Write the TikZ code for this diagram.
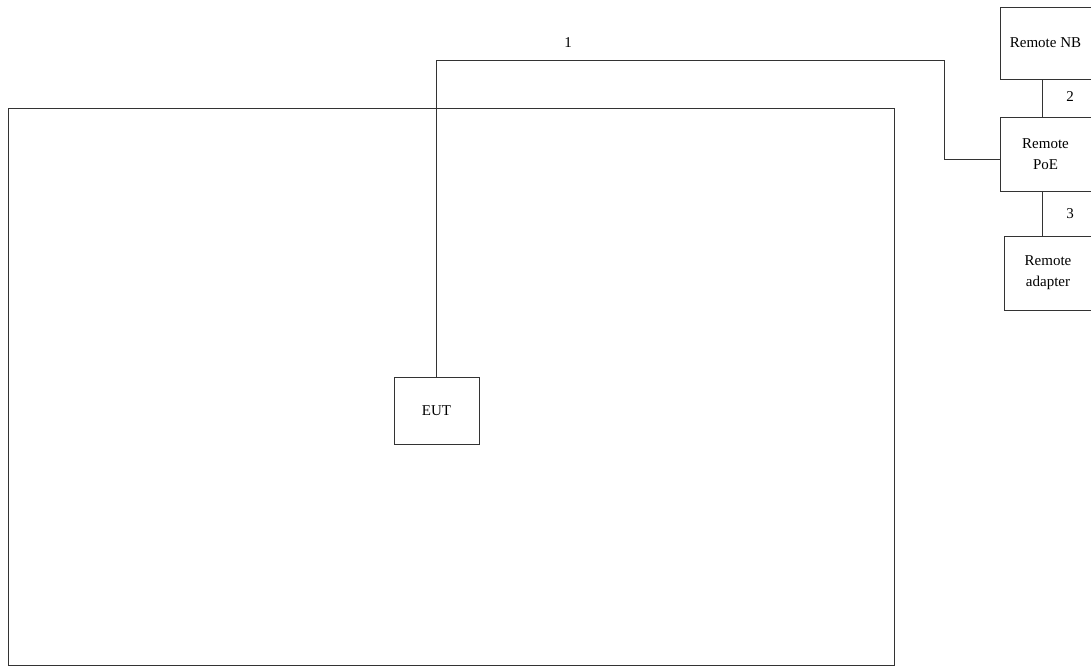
\documentclass[tikz,border=0pt]{standalone}
\usepackage{fontspec}
\setmainfont{Liberation Serif}
\begin{document}
\begin{tikzpicture}[x=1pt,y=-1pt,
  box/.style={draw=black!80, line width=0.9pt, minimum width=#1, inner sep=0pt, font=\fontsize{15}{21}\selectfont, align=center},
  wire/.style={draw=black!80, line width=0.9pt},
  lbl/.style={font=\fontsize{15}{18}\selectfont, inner sep=0pt}]
\useasboundingbox (0,0) rectangle (1091,667);
\draw[wire] (8,108) rectangle (894,665);
\node[box=85pt, minimum height=67pt] (eut) at (436.5,410.5) {EUT};
\node[box=91pt, minimum height=72pt] (nb) at (1045.5,43) {Remote NB};
\node[box=91pt, minimum height=74pt] (poe) at (1045.5,154) {Remote\\PoE};
\node[box=88pt, minimum height=74pt] (ad) at (1048,273) {Remote\\adapter};
\coordinate (c1) at (436.5,60);
\coordinate (c2) at (944.5,60);
\coordinate (c3) at (944.5,159);
\draw[wire] (eut.north) -- (c1) -- (c2) -- (c3) -- (c3 -| poe.west);
\draw[wire] (nb.south -| 1042,0) -- (poe.north -| 1042,0);
\draw[wire] (poe.south -| 1042,0) -- (ad.north -| 1042,0);
\node[lbl] at (568,43) {1};
\node[lbl] at (1070,97) {2};
\node[lbl] at (1070,214) {3};
\end{tikzpicture}
\end{document}
